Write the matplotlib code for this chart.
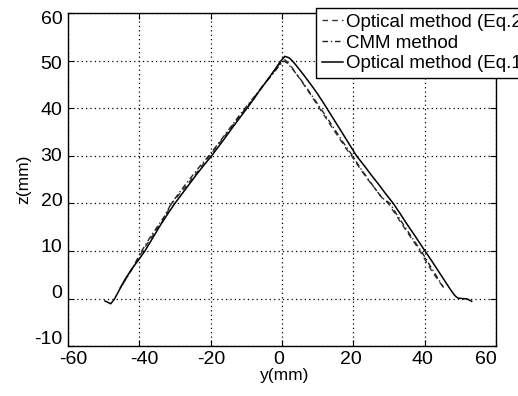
import matplotlib.pyplot as plt
from matplotlib.transforms import ScaledTranslation

plt.rcParams['font.family'] = ['Liberation Sans', 'DejaVu Sans']
plt.rcParams['axes.unicode_minus'] = False

# Optical method (Eq.1), solid
y_eq1 = [-49.6, -48, -47, -46, -44, -42, -40, -38.4, -36, -34, -32, -30, -28, -26,
         -24, -22, -19.7, -18, -16, -14, -12, -10, -8, -6.2, -4, -2, -1, 0, 0.8,
         2, 3, 4, 6, 8, 10, 12, 14, 16, 18, 20.9, 23, 25, 27, 29, 31.2, 33, 35, 37,
         38.5, 40.1, 42, 44, 46, 47.5, 48.5, 49.3, 50.5, 52, 53.2]
z_eq1 = [-0.5, -1.1, -0.2, 1.2, 4.0, 6.3, 8.3, 10.0, 13.0, 15.5, 17.8, 20.0, 22.0,
         24.0, 26.0, 27.9, 30.0, 31.7, 33.7, 35.8, 37.8, 39.8, 41.8, 43.8, 46.0,
         48.1, 49.2, 50.2, 50.9, 50.6, 49.9, 49.0, 47.1, 45.1, 43.0, 40.7, 38.3,
         35.9, 33.5, 30.0, 28.0, 26.0, 24.1, 22.1, 20.0, 18.0, 15.7, 13.5, 11.8,
         10.0, 7.9, 5.6, 3.3, 1.6, 0.6, 0.1, 0.0, -0.1, -0.6]

# Optical method (Eq.2), dashed
y_eq2 = [-45.4, -44, -42, -40.5, -39, -37, -35, -33, -30.9, -29, -27, -25, -23,
         -20.3, -18, -16, -14, -12, -10, -8, -6, -4, -2, -1, 0, 0.8, 2, 4, 6, 8, 10,
         12, 14, 16, 18, 19.5, 22, 24, 26, 28, 29.8, 32, 34, 36, 38.7, 40, 42, 44,
         45.7]
z_eq2 = [2.2, 3.8, 6.2, 8.3, 10.0, 12.4, 14.6, 16.8, 20.0, 21.7, 23.5, 25.4, 27.3,
         30.0, 32.2, 34.2, 36.2, 38.2, 40.1, 42.0, 44.1, 46.0, 48.0, 49.0, 49.8,
         50.2, 49.4, 47.3, 45.1, 42.9, 40.6, 38.3, 36.0, 33.8, 31.5, 30.0, 27.2,
         25.1, 23.2, 21.2, 20.0, 17.5, 15.2, 13.0, 10.0, 8.3, 5.8, 3.6, 2.0]

# CMM method, dash-dot
y_cmm = [-44.6, -43, -41, -39.3, -37, -35, -33, -31, -29, -27, -25, -23, -20.5,
         -18, -16, -14, -12, -10, -8, -6, -4, -2, -1, 0, 0.6, 1.5, 3, 5, 7, 9, 11,
         13, 15, 17, 19.8, 22, 24, 26, 28, 30.3, 32, 34, 36, 39, 40, 42, 44, 45.3]
z_cmm = [3.0, 5.0, 7.5, 10.0, 12.8, 15.0, 17.2, 20.0, 22.0, 24.0, 25.9, 27.8, 30.0,
         32.4, 34.4, 36.4, 38.4, 40.3, 42.2, 44.0, 45.9, 47.7, 48.7, 49.6, 49.9,
         49.5, 48.2, 46.3, 44.2, 42.0, 39.8, 37.6, 35.3, 33.0, 30.0, 27.4, 25.3,
         23.2, 21.2, 20.0, 17.9, 15.6, 13.3, 10.0, 8.8, 6.3, 3.9, 2.3]

x_ticks = [-60, -40, -20, 0, 20, 40, 60]
z_ticks = [-10, 0, 10, 20, 30, 40, 50, 60]

fig = plt.figure(figsize=(5.18, 3.96), dpi=100)
ax = fig.add_axes([0.131, 0.126, 0.8265, 0.841])

l2, = ax.plot(y_eq2, z_eq2, color='#333333', lw=1.0, dashes=(4, 3),
              label='Optical method (Eq.2')
lc, = ax.plot(y_cmm, z_cmm, color='#222222', lw=1.0, dashes=(4, 2, 1, 2),
              label='CMM method')
l1, = ax.plot(y_eq1, z_eq1, color='black', lw=1.1,
              label='Optical method (Eq.1')

ax.set_xlim(-60, 60)
ax.set_ylim(-10, 60)
ax.set_xticks(x_ticks)
ax.set_yticks(z_ticks)
ax.tick_params(direction='in', length=4, labelsize=14, top=True, right=True,
               labeltop=False, labelright=False)
ax.tick_params(axis='x', pad=3.5)
ax.tick_params(axis='y', pad=4)
ax.grid(True, color='black', linestyle=(0, (1, 2.5)), lw=0.9)
for s in ax.spines.values():
    s.set_linewidth(1.0)

# the exported labels sit a little off their ticks in the original
for lab, dx in zip(ax.get_xticklabels(), [5, 5, 1, -3, -2, -2, -10]):
    lab.set_transform(lab.get_transform() + ScaledTranslation(dx / 100, 0, fig.dpi_scale_trans))
for lab, v in zip(ax.get_yticklabels(), z_ticks):
    k = (60 - v) / 10
    dy = 1.86 * k - 4
    lab.set_transform(lab.get_transform() + ScaledTranslation(0, dy / 100, fig.dpi_scale_trans))

ax.set_xlabel('y(mm)', fontsize=12.5)
ax.set_ylabel('z(mm)', fontsize=12.5)
ax.xaxis.set_label_coords(0.507, -0.066)
ax.yaxis.set_label_coords(-0.086, 0.5)

# legend runs past the right edge, as in the original
leg = fig.legend(handles=[l2, lc, l1], loc='upper left',
                 bbox_to_anchor=(0.61, 0.98), fontsize=13.5, frameon=True,
                 fancybox=False, framealpha=1, edgecolor='black',
                 handlelength=1.15, handletextpad=0.15, labelspacing=0.2,
                 borderpad=0.3, borderaxespad=0)
leg.get_frame().set_linewidth(1.0)

fig.savefig('out.png', dpi=100)
